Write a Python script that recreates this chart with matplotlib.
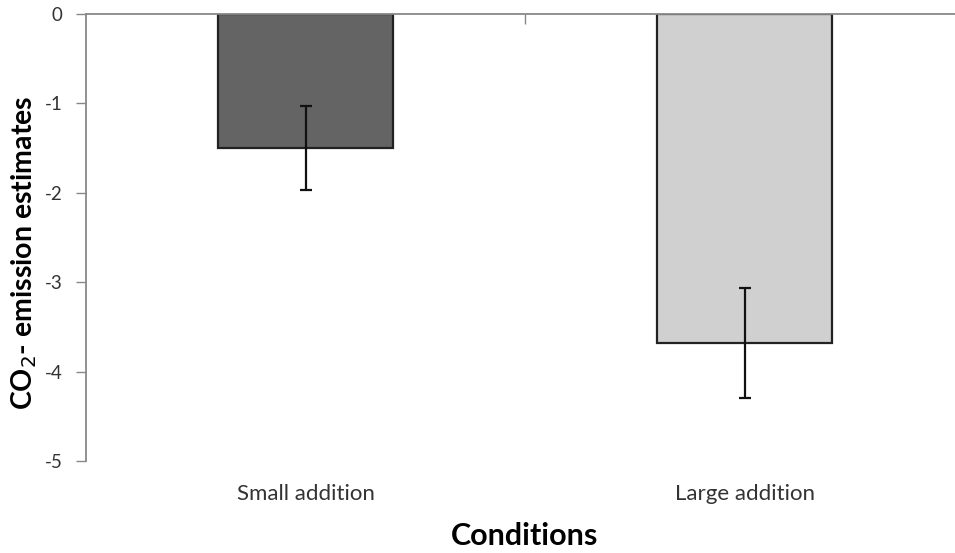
import matplotlib
matplotlib.use("Agg")
import matplotlib.pyplot as plt
import matplotlib.transforms as mtransforms

categories = ["Small addition", "Large addition"]
means = [-1.50, -3.68]
errors = [0.47, 0.62]
bar_colors = ["#646464", "#d0d0d0"]
yticks = [0, -1, -2, -3, -4, -5]

plt.rcParams['font.family'] = ['Lato', 'DejaVu Sans']

W, H = 955, 553
fig = plt.figure(figsize=(W / 100, H / 100), dpi=100)
ax = fig.add_axes([86 / W, 92 / H, 878 / W, 447 / H])

x = list(range(len(categories)))
ax.bar(x, means, width=0.4, color=bar_colors, edgecolor="#222222", linewidth=1.6, zorder=2)
ax.errorbar(x, means, yerr=errors, fmt="none", ecolor="#111111", elinewidth=1.6,
            capsize=4.5, capthick=1.6, zorder=3)

ax.set_xlim(-0.5, len(categories) - 0.5)
ax.set_ylim(-5, 0)
ax.set_yticks(yticks)
ax.set_yticklabels([str(v) for v in yticks], fontsize=13.5, color="#333333")
ax.tick_params(axis="y", direction="out", length=7, width=1, color="#888888", pad=10)

ax.xaxis.set_ticks_position("top")
ax.set_xticks([0.5])
ax.set_xticklabels([""])
ax.tick_params(axis="x", direction="in", length=7, width=1, color="#888888")

for s in ["right", "bottom"]:
    ax.spines[s].set_visible(False)
for s in ["left", "top"]:
    ax.spines[s].set_color("#888888")
    ax.spines[s].set_linewidth(1.3)

trans = mtransforms.blended_transform_factory(ax.transData, ax.transAxes)
for xi, c in zip(x, categories):
    ax.text(xi, -0.074, c, transform=trans, ha="center", va="center", fontsize=16, color="#333333")

fig.text(525 / W, 1 - 536 / H, "Conditions", ha="center", va="center", fontsize=22, fontweight="bold")
fig.text(24 / W, 1 - 253 / H, "CO$_2$- emission estimates", ha="center", va="center",
         rotation=90, fontsize=20.5, fontweight="bold")

fig.savefig("out.png", dpi=100)
